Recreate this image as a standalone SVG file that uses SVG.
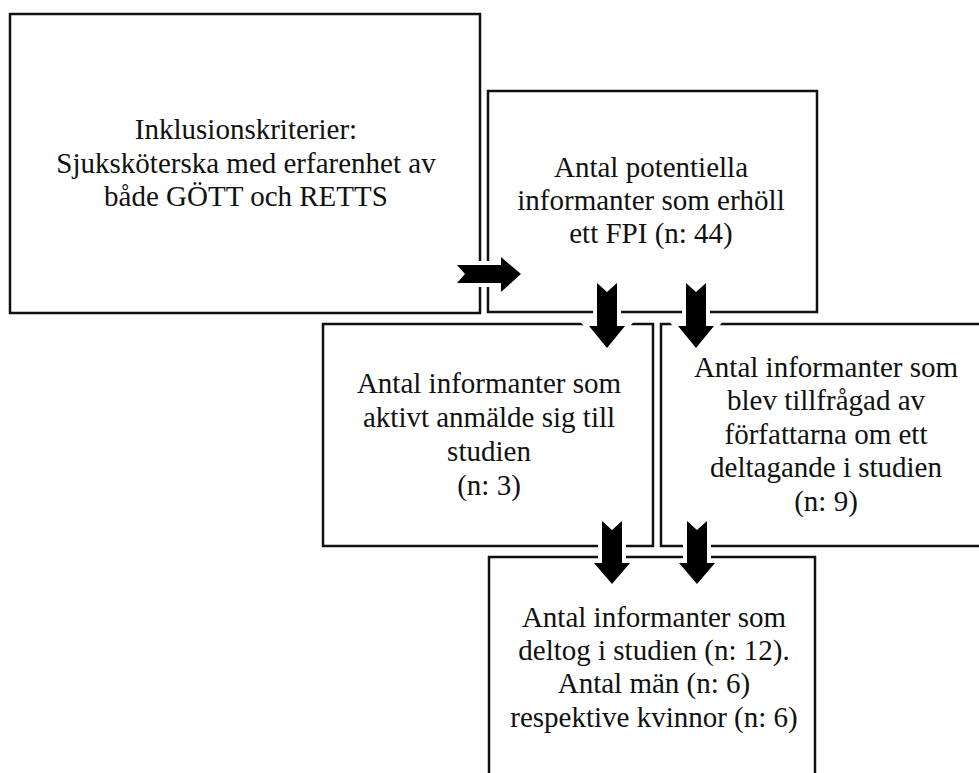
<svg xmlns="http://www.w3.org/2000/svg" width="979" height="773" viewBox="0 0 979 773">
<style>
.box{fill:none;stroke:#111;stroke-width:2.5}
.t{font-family:"Liberation Serif","Times New Roman",serif;font-size:29px;fill:#111;text-anchor:middle}
.arr{fill:#000;stroke:#fff;stroke-width:8;stroke-linejoin:miter;paint-order:stroke}
</style>
<rect x="0" y="0" width="979" height="773" fill="#fff"/>
<g id="n1">
<rect class="box" x="10" y="14" width="470" height="299"/>
<text class="t" x="246" y="139">Inklusionskriterier:</text>
<text class="t" x="246" y="172.5">Sjuksköterska med erfarenhet av</text>
<text class="t" x="246" y="206">både GÖTT och RETTS</text>
</g>
<g id="n2">
<rect class="box" x="488" y="91" width="329" height="221"/>
<text class="t" x="651" y="177">Antal potentiella</text>
<text class="t" x="651" y="210">informanter som erhöll</text>
<text class="t" x="651" y="243">ett FPI (n: 44)</text>
</g>
<g id="n3">
<rect class="box" x="323" y="324" width="330" height="222"/>
<text class="t" x="489" y="393">Antal informanter som</text>
<text class="t" x="489" y="427">aktivt anmälde sig till</text>
<text class="t" x="489" y="461">studien</text>
<text class="t" x="489" y="495">(n: 3)</text>
</g>
<g id="n4">
<rect class="box" x="661" y="324" width="335" height="222"/>
<text class="t" x="826" y="377">Antal informanter som</text>
<text class="t" x="826" y="410">blev tillfrågad av</text>
<text class="t" x="826" y="444">författarna om ett</text>
<text class="t" x="826" y="477">deltagande i studien</text>
<text class="t" x="826" y="511">(n: 9)</text>
</g>
<g id="n5">
<rect class="box" x="489" y="557" width="326" height="240"/>
<text class="t" x="654" y="627">Antal informanter som</text>
<text class="t" x="654" y="660">deltog i studien (n: 12).</text>
<text class="t" x="654" y="693">Antal män (n: 6)</text>
<text class="t" x="654" y="727">respektive kvinnor (n: 6)</text>
</g>
<g id="connectors">
<polygon class="arr" points="457,265 501,265 501,257 521,274 501,292 501,283 457,283 465,274"/>
<polygon class="arr" points="597,283 607,292 617,283 617,326 625,326 607,348 589,326 597,326"/>
<polygon class="arr" points="686,283 696,292 706,283 706,326 714,326 696,348 678,326 686,326"/>
<polygon class="arr" points="602,521 612,530 622,521 622,563 630,563 612,584 594,563 602,563"/>
<polygon class="arr" points="687,521 697,530 707,521 707,563 715,563 697,584 679,563 687,563"/>
</g>
</svg>
